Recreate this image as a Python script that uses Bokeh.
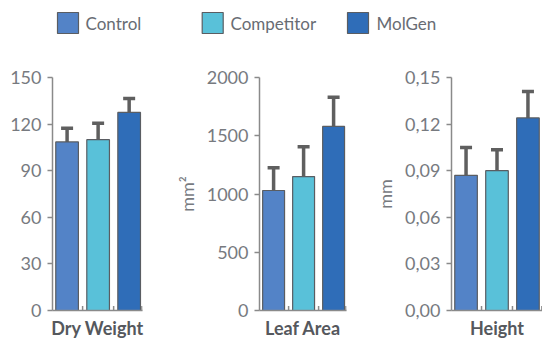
import math

from bokeh.plotting import figure
from bokeh.models import ColumnDataSource, Whisker, TeeHead, FixedTicker, Range1d, CustomJSTickFormatter
from bokeh.layouts import column, row
from bokeh.embed import file_html
from bokeh.resources import INLINE
from bokeh.core.properties import value

# --- data -------------------------------------------------------------
series = ["Control", "Competitor", "MolGen"]
colors = ["#5383c7", "#59c1d9", "#2f6db8"]

metrics = ["Dry Weight", "Leaf Area", "Height"]
units = ["", "mm²", "mm"]

dry_weight = [108.5, 110.0, 127.5]
dry_weight_err = [8.8, 10.5, 9.0]

leaf_area = [1030, 1150, 1580]
leaf_area_err = [195, 255, 250]

height = [0.087, 0.090, 0.124]
height_err = [0.018, 0.0135, 0.017]

dry_weight_ticks = [0, 30, 60, 90, 120, 150]
leaf_area_ticks = [0, 500, 1000, 1500, 2000]
height_ticks = [0, 0.03, 0.06, 0.09, 0.12, 0.15]

# --- styling ----------------------------------------------------------
FONT = "Lato"
AXIS_GREY = "#8a8a8a"
LABEL_GREY = "#777a7f"
ERR_GREY = "#5f5f5f"
PANEL_H = 291


def panel(name, unit, vals, errs, ticks, width, left, right, x_end, decimal=False):
    p = figure(width=width, height=PANEL_H,
               x_range=Range1d(-0.47, x_end), y_range=Range1d(0, ticks[-1]),
               output_backend="svg", toolbar_location=None,
               min_border_left=left, min_border_right=right,
               min_border_top=27, min_border_bottom=29)
    p.outline_line_color = None
    p.grid.visible = False

    src = ColumnDataSource(dict(
        x=[0, 1, 2], top=vals,
        lower=[v - e for v, e in zip(vals, errs)],
        upper=[v + e for v, e in zip(vals, errs)],
        color=colors,
    ))
    p.vbar(x="x", top="top", width=0.73, fill_color="color",
           line_color="#5a5d62", line_width=1.2, source=src)

    w = Whisker(base="x", upper="upper", lower="lower", source=src,
                line_color=ERR_GREY, line_width=3.5,
                upper_head=TeeHead(size=12, line_color=ERR_GREY, line_width=3.5),
                lower_head=TeeHead(size=12, line_color=ERR_GREY, line_width=3.5))
    p.add_layout(w)

    # small upward separators on the baseline between the groups
    # (a vertical dash centred on the axis; its lower half is clipped away)
    sep_x = [0.5, 1.5, x_end - 0.02]
    p.scatter(x=sep_x, y=[0] * len(sep_x), marker="dash", angle=math.pi / 2,
              size=9, line_color=AXIS_GREY, line_width=1.5)

    # y axis
    ya = p.yaxis[0]
    ya.ticker = FixedTicker(ticks=ticks)
    if decimal:
        ya.formatter = CustomJSTickFormatter(code="return tick.toFixed(2).replace('.', ',');")
    ya.minor_tick_line_color = None
    ya.major_tick_in = 0
    ya.major_tick_out = 5
    ya.major_tick_line_color = AXIS_GREY
    ya.major_tick_line_width = 1.5
    ya.axis_line_color = AXIS_GREY
    ya.axis_line_width = 1.5
    ya.major_label_text_font = FONT
    ya.major_label_text_font_size = "18px"
    ya.major_label_text_color = LABEL_GREY
    ya.major_label_standoff = 6
    if unit:
        ya.axis_label = unit
        ya.axis_label_text_font = FONT
        ya.axis_label_text_font_style = "normal"
        ya.axis_label_text_font_size = "18px"
        ya.axis_label_text_color = LABEL_GREY
        ya.axis_label_standoff = 6

    # x axis: plain baseline, metric name as label
    xa = p.xaxis[0]
    xa.ticker = FixedTicker(ticks=[])
    xa.minor_tick_line_color = None
    xa.major_tick_line_color = None
    xa.axis_line_color = AXIS_GREY
    xa.axis_line_width = 1.5
    xa.major_label_standoff = 0
    xa.axis_label = name
    xa.axis_label_text_font = FONT
    xa.axis_label_text_font_style = "bold"
    xa.axis_label_text_font_size = "18px"
    xa.axis_label_text_color = "#55585d"
    xa.axis_label_standoff = 6
    return p


p1 = panel(metrics[0], units[0], dry_weight, dry_weight_err, dry_weight_ticks,
           width=172, left=52, right=30, x_end=2.43)
p2 = panel(metrics[1], units[1], leaf_area, leaf_area_err, leaf_area_ticks,
           width=194, left=84, right=20, x_end=2.43)
p3 = panel(metrics[2], units[2], height, height_err, height_ticks,
           width=176, left=85, right=0, x_end=2.47, decimal=True)

# --- legend strip -----------------------------------------------------
legend_sq_x = [67.5, 212.2, 357.5]
legend_tx_x = [85, 230, 376]
leg = figure(width=542, height=50, x_range=Range1d(0, 542), y_range=Range1d(50, 0),
             output_backend="svg", toolbar_location=None,
             x_axis_type=None, y_axis_type=None, min_border=0)
leg.outline_line_color = None
leg.grid.visible = False
lsrc = ColumnDataSource(dict(sx=legend_sq_x, tx=legend_tx_x, y=[22.5] * 3,
                             label=series, color=colors))
leg.rect(x="sx", y="y", width=21, height=21, fill_color="color",
         line_color="#5a5d62", line_width=1.2, source=lsrc)
leg.text(x="tx", y="y", text="label", text_font=value(FONT), text_font_size="17px",
         text_color="#686c73", text_baseline="middle", text_align="left", source=lsrc)

layout = column(leg, row(p1, p2, p3))
open("out.html", "w").write(file_html(layout, INLINE))
